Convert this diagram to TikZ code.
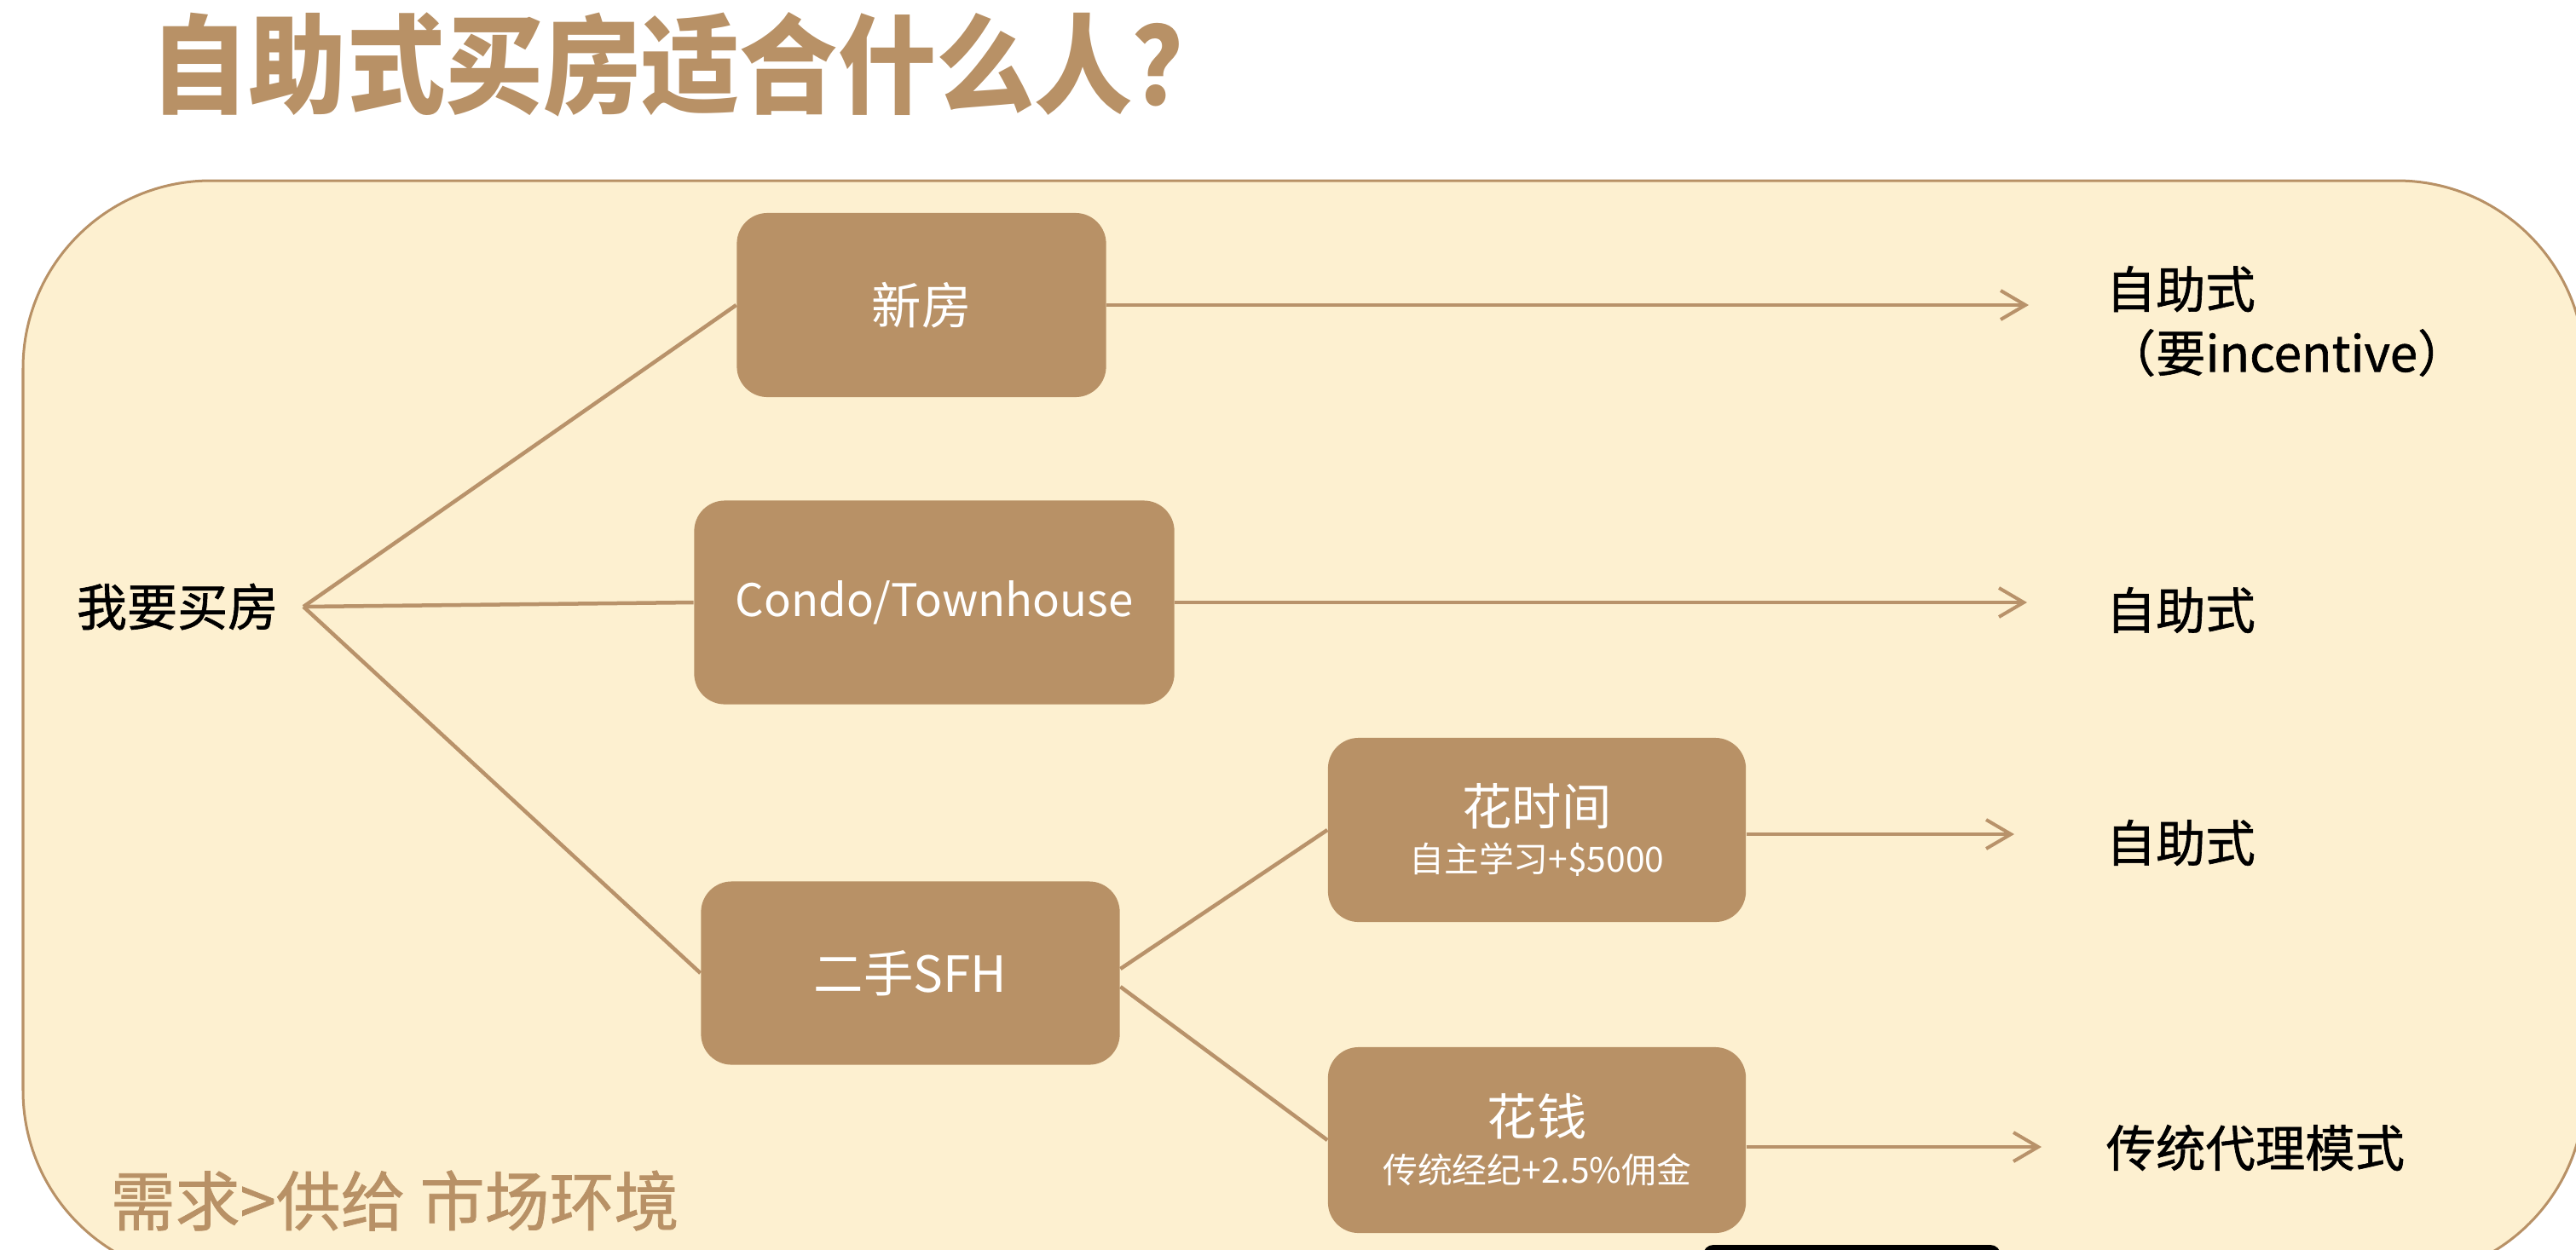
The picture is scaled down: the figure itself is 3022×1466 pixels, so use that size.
\documentclass[tikz,border=0pt]{standalone}
\usepackage{fontspec}
\setmainfont{Noto Sans CJK SC}
\newfontfamily\medfont[FakeBold=1]{Noto Sans CJK SC}
\usetikzlibrary{arrows.meta}
\definecolor{cream}{HTML}{FDF0D0}
\definecolor{tan}{HTML}{B89166}
\definecolor{tanline}{HTML}{B8926A}
\begin{document}
\begin{tikzpicture}[x=0.01cm,y=-0.01cm,
  box/.style={fill=tan, rounded corners=0.36cm, text=white, align=center, inner sep=0,
    font=\fontsize{16.6}{15.9}\selectfont},
  conn/.style={draw=tanline, line width=0.045cm},
  arr/.style={conn, -{Straight Barb[length=0.29cm,width=0.34cm,line width=0.04cm]}},
  lab/.style={anchor=west, inner sep=0, align=left, font=\medfont\fontsize{16.6}{21.3}\selectfont}]
\useasboundingbox (0,0) rectangle (3022,1466);
\clip (0,0) rectangle (3022,1466);
\fill[white] (0,0) rectangle (3022,1466);
% outer panel
\draw[fill=cream, draw=tan, line width=0.03cm, rounded corners=2.2cm] (27,212) rectangle (3032,1500);
% title
\node[anchor=west, inner sep=0, text=tan, font=\bfseries\fontsize{36}{40}\selectfont] (title) at (176,76)
  {\scalebox{0.91}[1]{自助式买房适合什么人？}};
% footer
\node[anchor=west, inner sep=0, text=tan, font=\medfont\fontsize{21.6}{24}\selectfont] (foot) at (129,1409) {需求>供给 市场环境};
% start
\node[anchor=east, inner xsep=0.29cm, inner ysep=0, font=\medfont\fontsize{16.8}{20}\selectfont] (buy) at (356,712) {我要买房};
% boxes
\node[box, minimum width=4.33cm, minimum height=2.16cm] (xin) at (1081,358) {新房};
\node[box, minimum width=5.63cm, minimum height=2.39cm, font=\fontsize{15}{15.9}\selectfont] (con) at (1096,707) {Condo/Townhouse};
\node[box, minimum width=4.91cm, minimum height=2.15cm] (sfh) at (1068,1142) {二手SFH};
\node[box, minimum width=4.90cm, minimum height=2.16cm] (sj) at (1803,974) {花时间\\{\fontsize{11.6}{15.9}\selectfont 自主学习+\$5000}};
\node[box, minimum width=4.90cm, minimum height=2.18cm] (qian) at (1803,1338) {花钱\\{\fontsize{11.6}{15.9}\selectfont 传统经纪+2.5\%佣金}};
% connectors
\draw[conn] (buy.east) -- (xin.west);
\draw[conn] (buy.east) -- (con.west);
\draw[conn] (buy.east) -- (sfh.west);
\draw[conn] ([yshift=0.05cm]sfh.east) -- (sj.west);
\draw[conn] ([yshift=-0.16cm]sfh.east) -- (qian.west);
% arrow ends
\coordinate (e1) at (2380,358);
\coordinate (e2) at (2378,707);
\coordinate (e3) at (2363,980);
\coordinate (e4) at (2395,1346);
\draw[arr] (xin.east) -- (xin.east -| e1);
\draw[arr] ([yshift=-0.05cm]sj.east) -- ([yshift=-0.05cm]sj.east -| e3);
\draw[arr] (con.east) -- (con.east -| e2);
\draw[arr] ([yshift=-0.08cm]qian.east) -- ([yshift=-0.08cm]qian.east -| e4);
% labels
\node[lab] (r1) at (2470,377) {自助式\\（要incentive）};
\node[lab] (r2) at (2470,716) {自助式};
\node[lab] (r3) at (2470,989) {自助式};
\node[lab] (r4) at (2470,1347) {传统代理模式};
% bottom bar
\fill[black, rounded corners=0.12cm] (1998,1461) rectangle (2347,1520);
\end{tikzpicture}
\end{document}
